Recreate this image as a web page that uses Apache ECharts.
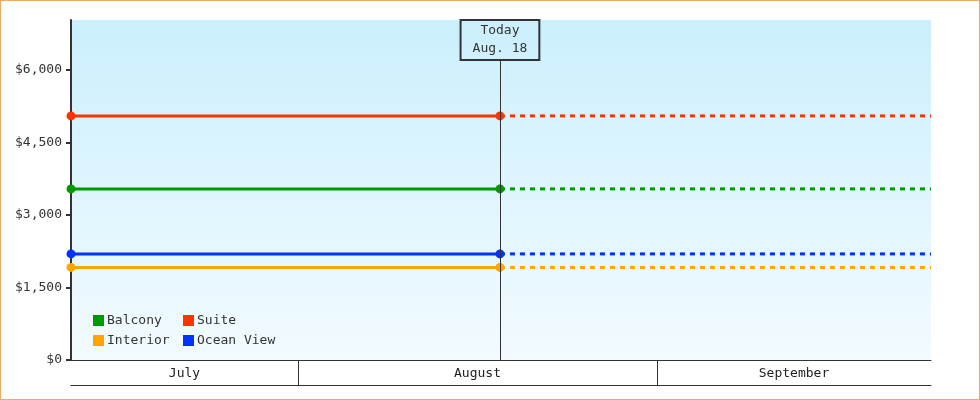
<!DOCTYPE html>
<html>
<head>
<meta charset="utf-8">
<script src="https://cdn.jsdelivr.net/npm/echarts@6/dist/echarts.min.js"></script>
<style>
  html, body { margin: 0; padding: 0; background: #fff; }
  #wrap { position: relative; width: 980px; height: 400px; }
  #chart { width: 980px; height: 400px; }
  #frame { position: absolute; left: 0; top: 0; width: 980px; height: 400px; box-sizing: border-box; border: 1px solid #e8aa66; pointer-events: none; }
</style>
</head>
<body>
<div id="wrap"><div id="chart"></div><div id="frame"></div></div>
<script>
// Cabin categories and prices
const cabinNames = ['Balcony', 'Suite', 'Interior', 'Ocean View'];
const cabinPrices = [3540, 5050, 1915, 2195];
const cabinColors = ['#009900', '#ff3300', '#ffa500', '#0033ff'];

// Time in days since July 1
const startDay = 11.4;
const todayDay = 48.44;
const endDay = 85.66;
const monthStartDays = [31, 62];
const monthLabelDays = [21.2, 46.5, 73.83];
const monthNames = ['July', 'August', 'September'];
const todayLabel = ['Today', 'Aug. 18'];

// Y axis
const yTicks = [0, 1500, 3000, 4500, 6000];
const yMax = 7034;
const todayLineTop = 6207;

const mono = 'DejaVu Sans Mono';
const series = [];
cabinNames.forEach(function (name, i) {
  series.push({
    name: name, type: 'line', xAxisIndex: 0, yAxisIndex: 0,
    data: [[startDay, cabinPrices[i]], [todayDay, cabinPrices[i]]],
    symbol: 'circle', symbolSize: 9, showSymbol: true,
    itemStyle: { color: cabinColors[i] },
    lineStyle: { color: cabinColors[i], width: 3 },
    z: 3, silent: true
  });
  series.push({
    name: name, type: 'line', xAxisIndex: 0, yAxisIndex: 0,
    data: [[todayDay, cabinPrices[i]], [endDay, cabinPrices[i]]],
    showSymbol: false, symbol: 'none',
    itemStyle: { color: cabinColors[i] },
    lineStyle: { color: cabinColors[i], width: 3, type: [5, 5], cap: 'butt' },
    z: 2, silent: true
  });
});
series.push({
  type: 'line', data: [], xAxisIndex: 0, yAxisIndex: 0, z: 10,
  markLine: {
    silent: true, symbol: 'none', animation: false,
    lineStyle: { color: '#333', width: 1, type: 'solid' },
    label: {
      show: true, position: 'end', distance: 0,
      formatter: todayLabel.join('\n'),
      color: '#333', fontFamily: mono, fontSize: 13, lineHeight: 18,
      borderColor: '#333', borderWidth: 1, padding: [2, 12],
      backgroundColor: 'transparent'
    },
    data: [[{ coord: [todayDay, 0] }, { coord: [todayDay, todayLineTop] }]]
  }
});

const legendCommon = {
  orient: 'vertical', icon: 'rect', itemWidth: 11, itemHeight: 11, itemGap: 7,
  top: 314, padding: 0, selectedMode: false,
  textStyle: { color: '#333', fontFamily: mono, fontSize: 13, lineHeight: 11, padding: [0, 0, 0, -2] }
};

const option = {
  animation: false,
  grid: {
    left: 71, right: 49, top: 20, bottom: 40, show: true, borderWidth: 0,
    backgroundColor: new echarts.graphic.LinearGradient(0, 0, 0, 1, [
      { offset: 0, color: '#cbeffd' },
      { offset: 1, color: '#f2fbff' }
    ])
  },
  legend: [
    Object.assign({}, legendCommon, { left: 93, data: [cabinNames[0], cabinNames[2]] }),
    Object.assign({}, legendCommon, { left: 183, data: [cabinNames[1], cabinNames[3]] })
  ],
  xAxis: [
    {
      type: 'value', min: startDay, max: endDay, position: 'bottom',
      axisLine: { show: true, onZero: false, lineStyle: { color: '#333', width: 1 } },
      axisTick: { show: false }, axisLabel: { show: false }, splitLine: { show: false }
    },
    {
      type: 'value', min: startDay, max: endDay, position: 'bottom', offset: 25,
      axisLine: { show: true, onZero: false, lineStyle: { color: '#333', width: 1 } },
      axisTick: { show: true, inside: true, length: 25, customValues: monthStartDays, lineStyle: { color: '#333', width: 1 } },
      axisLabel: {
        show: true, inside: true, margin: 5, customValues: monthLabelDays,
        color: '#222', fontFamily: mono, fontSize: 13,
        formatter: function (v) {
          const idx = monthLabelDays.findIndex(function (d) { return Math.abs(d - v) < 1e-6; });
          return idx >= 0 ? monthNames[idx] : '';
        }
      },
      splitLine: { show: false }
    }
  ],
  yAxis: {
    type: 'value', min: 0, max: yMax,
    axisLine: { show: true, lineStyle: { color: '#333', width: 2 } },
    axisTick: { show: true, length: 5, customValues: yTicks, lineStyle: { color: '#333', width: 2 } },
    axisLabel: {
      customValues: yTicks, margin: 9, color: '#333', fontFamily: mono, fontSize: 13,
      formatter: function (v) { return '$' + v.toLocaleString('en-US'); }
    },
    splitLine: { show: false }
  },
  series: series
};

const chart = echarts.init(document.getElementById('chart'), null, { renderer: 'canvas' });
chart.setOption(option);
</script>
</body>
</html>
